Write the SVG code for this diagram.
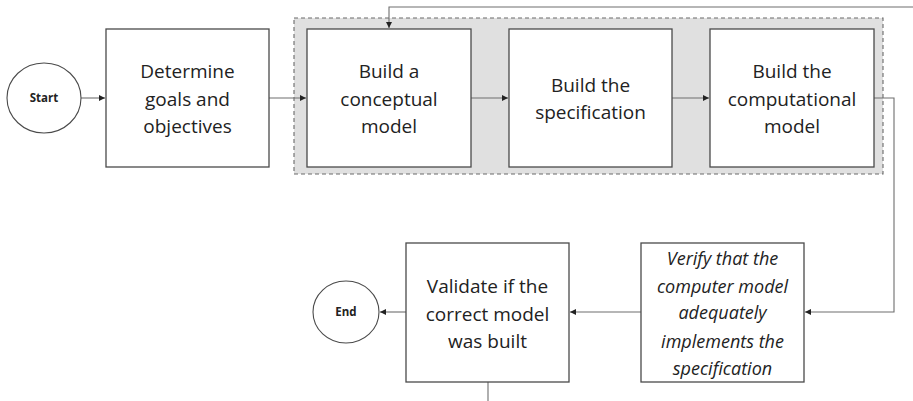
<svg xmlns="http://www.w3.org/2000/svg" width="913" height="401" viewBox="0 0 913 401">
  <style>
    .box { fill: #ffffff; stroke: #4a4a4a; stroke-width: 1.3; }
    .term { fill: #ffffff; stroke: #4a4a4a; stroke-width: 1.1; }
    .group { fill: #e0e0e0; stroke: #6a6a6a; stroke-width: 1.1; stroke-dasharray: 4 3; }
    .link { fill: none; stroke: #6e6e6e; stroke-width: 1.1; }
    .label { font-family: "Open Sans", "Liberation Sans", sans-serif; font-size: 19px; fill: #222222; text-anchor: middle; }
    .italic { font-style: italic; font-size: 18px; }
    .small { font-family: "Open Sans", "Liberation Sans", sans-serif; font-size: 11.5px; font-weight: bold; fill: #222222; text-anchor: middle; }
  </style>
  <defs>
    <marker id="arrow" viewBox="0 0 6 6" refX="6" refY="3" markerWidth="6" markerHeight="6" markerUnits="userSpaceOnUse" orient="auto">
      <path d="M0,0 L6,3 L0,6 z" fill="#222222"/>
    </marker>
  </defs>

  <!-- grey dashed phase grouping -->
  <rect id="build-phase" class="group" x="294" y="18" width="589" height="156"/>

  <g id="connectors">
    <path class="link" d="M81,98 H105" marker-end="url(#arrow)"/>
    <path class="link" d="M269,98 H306" marker-end="url(#arrow)"/>
    <path class="link" d="M471,98 H508" marker-end="url(#arrow)"/>
    <path class="link" d="M672,98 H709" marker-end="url(#arrow)"/>
    <path class="link" d="M874,98 H894 V312 H805" marker-end="url(#arrow)"/>
    <path class="link" d="M641,312 H570" marker-end="url(#arrow)"/>
    <path class="link" d="M406,312 H380" marker-end="url(#arrow)"/>
    <path class="link" d="M913,7 H389 V28" marker-end="url(#arrow)"/>
    <path class="link" d="M488,382 V401"/>
  </g>

  <g id="start">
    <ellipse class="term" cx="44" cy="98" rx="37" ry="35"/>
    <text class="small" x="44" y="102">Start</text>
  </g>

  <g id="goals">
    <rect class="box" x="106" y="29" width="163" height="138"/>
    <text class="label" x="187.5" y="78">Determine</text>
    <text class="label" x="187.5" y="106">goals and</text>
    <text class="label" x="187.5" y="133">objectives</text>
  </g>

  <g id="conceptual">
    <rect class="box" x="307" y="29" width="164" height="138"/>
    <text class="label" x="389" y="78">Build a</text>
    <text class="label" x="389" y="106">conceptual</text>
    <text class="label" x="389" y="133">model</text>
  </g>

  <g id="specification">
    <rect class="box" x="509" y="29" width="163" height="138"/>
    <text class="label" x="590.5" y="92">Build the</text>
    <text class="label" x="590.5" y="119">specification</text>
  </g>

  <g id="computational">
    <rect class="box" x="710" y="29" width="164" height="138"/>
    <text class="label" x="792" y="78">Build the</text>
    <text class="label" x="792" y="106">computational</text>
    <text class="label" x="792" y="133">model</text>
  </g>

  <g id="verify">
    <rect class="box" x="641" y="243" width="163" height="139"/>
    <text class="label italic" x="722.5" y="265">Verify that the</text>
    <text class="label italic" x="722.5" y="293">computer model</text>
    <text class="label italic" x="722.5" y="319">adequately</text>
    <text class="label italic" x="722.5" y="348">implements the</text>
    <text class="label italic" x="722.5" y="375">specification</text>
  </g>

  <g id="validate">
    <rect class="box" x="406" y="243" width="163" height="139"/>
    <text class="label" x="487.5" y="293">Validate if the</text>
    <text class="label" x="487.5" y="321">correct model</text>
    <text class="label" x="487.5" y="348">was built</text>
  </g>

  <g id="end">
    <ellipse class="term" cx="346" cy="312" rx="33" ry="31"/>
    <text class="small" x="346" y="316">End</text>
  </g>
</svg>
